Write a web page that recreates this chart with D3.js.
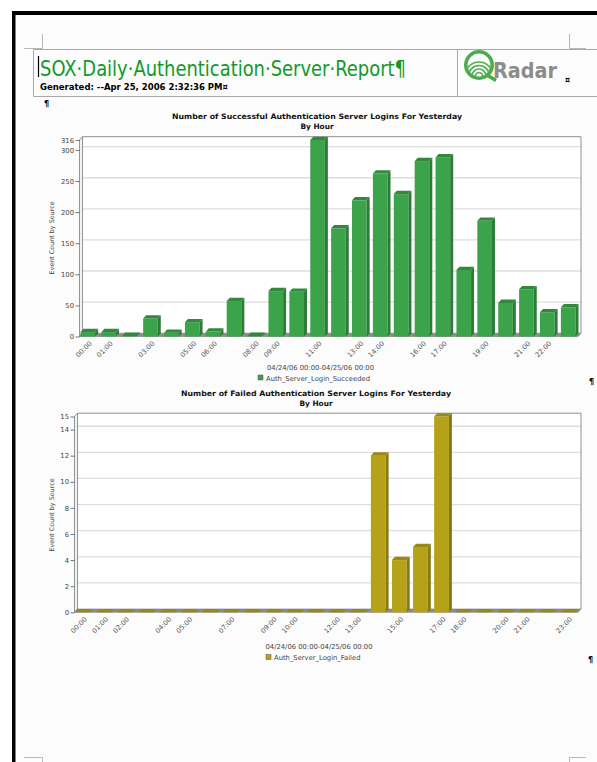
<!DOCTYPE html>
<html>
<head>
<meta charset="utf-8">
<script src="https://cdn.jsdelivr.net/npm/d3@7"></script>
<style>
  html, body { margin: 0; padding: 0; background: #fcfcfc; }
  svg { display: block; }
  text { font-family: "DejaVu Sans", Verdana, sans-serif; }
</style>
</head>
<body>
<svg id="page" width="597" height="762"></svg>
<script>
// ---- data ----
const hours = ["00:00","01:00","02:00","03:00","04:00","05:00","06:00","07:00",
               "08:00","09:00","10:00","11:00","12:00","13:00","14:00","15:00",
               "16:00","17:00","18:00","19:00","20:00","21:00","22:00","23:00"];

const succeededCounts = [7, 7, 1, 29, 6, 23, 8, 57, 1, 73, 72, 316,
                         174, 219, 262, 229, 282, 288, 107, 186, 54, 76, 39, 47];

const failedCounts = [0, 0, 0, 0, 0, 0, 0, 0, 0, 0, 0, 0,
                      0, 0, 12, 4, 5, 15, 0, 0, 0, 0, 0, 0];

const succeededTicks = [0, 50, 100, 150, 200, 250, 300, 316];
const failedTicks = [0, 2, 4, 6, 8, 10, 12, 14, 15];

const succeededHourLabels = ["00:00","01:00","03:00","05:00","06:00","08:00","09:00","11:00",
                             "13:00","14:00","16:00","17:00","19:00","21:00","22:00"];
const failedHourLabels = ["00:00","01:00","02:00","04:00","05:00","07:00","09:00","10:00",
                          "12:00","13:00","15:00","17:00","18:00","20:00","21:00","23:00"];

const chartTitles = ["Number of Successful Authentication Server Logins For Yesterday",
                     "Number of Failed Authentication Server Logins For Yesterday"];
const chartSubtitle = "By Hour";
const yAxisTitle = "Event Count by Source";
const dateRange = "04/24/06 00:00-04/25/06 00:00";
const seriesNames = ["Auth_Server_Login_Succeeded", "Auth_Server_Login_Failed"];
const seriesColors = ["#3ba34a", "#b6a219"];

const reportTitle = "SOX\u00B7Daily\u00B7Authentication\u00B7Server\u00B7Report\u00B6";
const generatedLine = "Generated: --Apr 25, 2006 2:32:36 PM\u00A4";

// ---- page frame ----
const svg = d3.select("#page");
svg.append("rect").attr("x", 0).attr("y", 0).attr("width", 597).attr("height", 762).attr("fill", "#fcfcfc");
svg.append("rect").attr("x", 0).attr("y", 0).attr("width", 597).attr("height", 11).attr("fill", "#ffffff");
svg.append("rect").attr("x", 0).attr("y", 0).attr("width", 12).attr("height", 762).attr("fill", "#ffffff");
svg.append("rect").attr("x", 12).attr("y", 11).attr("width", 585).attr("height", 4).attr("fill", "#000");
svg.append("rect").attr("x", 12).attr("y", 11).attr("width", 3.5).attr("height", 751).attr("fill", "#000");

// crop marks at the page corners
const cropMarks = svg.append("g").attr("stroke", "#b8b8b8").attr("stroke-width", 1).attr("fill", "none");
cropMarks.append("path").attr("d", "M42.5,34V48.5H24");
cropMarks.append("path").attr("d", "M569.5,34V48.5H586");
cropMarks.append("path").attr("d", "M24,757.5H42.5V762");
cropMarks.append("path").attr("d", "M586,757.5H569.5V762");

// ---- report header ----
const header = svg.append("g");
header.append("path")
  .attr("d", "M33.5,49.5H597M33.5,96.5H597M33.5,49.5V96.5M457.5,49.5V96.5")
  .attr("stroke", "#a8a8a8").attr("stroke-width", 1).attr("fill", "none");
header.append("line").attr("x1", 38.5).attr("x2", 38.5).attr("y1", 56).attr("y2", 77)
  .attr("stroke", "#000").attr("stroke-width", 1.2);
header.append("text").attr("x", 40).attr("y", 75.5)
  .attr("font-family", "'Open Sans', 'DejaVu Sans', sans-serif")
  .attr("font-size", 21).attr("fill", "#119a2b")
  .attr("textLength", 366).attr("lengthAdjust", "spacingAndGlyphs")
  .text(reportTitle);
header.append("text").attr("x", 40).attr("y", 89.5)
  .attr("font-size", 8).attr("font-weight", "bold").attr("fill", "#000")
  .attr("textLength", 188).attr("lengthAdjust", "spacingAndGlyphs")
  .text(generatedLine);

// QRadar logo
const logo = header.append("g");
logo.append("clipPath").attr("id", "qclip")
  .append("circle").attr("cx", 479).attr("cy", 65).attr("r", 11.5);
const waves = logo.append("g").attr("clip-path", "url(#qclip)")
  .attr("fill", "none").attr("stroke", "#52b052").attr("stroke-width", 1.7);
[3.5, 7, 10.5, 14].forEach(r => {
  waves.append("path").attr("d", d3.arc()({innerRadius: r, outerRadius: r, startAngle: -Math.PI / 2, endAngle: Math.PI / 2}))
    .attr("transform", "translate(479,76)");
});
logo.append("circle").attr("cx", 479).attr("cy", 65).attr("r", 13.2)
  .attr("fill", "none").attr("stroke", "#4aac4a").attr("stroke-width", 3.6);
logo.append("path").attr("d", "M487,75L496,80.5").attr("stroke", "#4aac4a").attr("stroke-width", 3.6);
logo.append("text").attr("x", 493).attr("y", 77.5)
  .attr("font-family", "'Liberation Sans', Arial, sans-serif").attr("font-weight", "bold")
  .attr("font-size", 21).attr("fill", "#8c8c8c")
  .attr("textLength", 64).attr("lengthAdjust", "spacingAndGlyphs")
  .text("Radar");
header.append("text").attr("x", 565).attr("y", 83).attr("font-size", 8).attr("font-weight", "bold")
  .attr("fill", "#000").text("\u00A4");

// paragraph marks
const marks = [[44, 107], [589, 385], [588, 663]];
svg.selectAll("text.para").data(marks).join("text").attr("class", "para")
  .attr("x", d => d[0]).attr("y", d => d[1]).attr("font-size", 8).attr("font-weight", "bold")
  .attr("fill", "#000").text("\u00B6");

// ---- 3D bar chart ----
function barChart(cfg) {
  const g = svg.append("g");
  const dx = 3, dy = 3.3;
  const x = d3.scaleBand().domain(hours).range([cfg.left + 1, cfg.right - 5.5])
    .paddingInner(0.3).paddingOuter(0);
  const y = d3.scaleLinear().domain([0, d3.max(cfg.ticks)]).range([cfg.bottom, cfg.top]);
  const y0 = y(0), yT = y(d3.max(cfg.ticks));
  const L = cfg.left, R = cfg.right;

  // titles
  g.append("text").attr("x", cfg.titleX).attr("y", cfg.titleY).attr("text-anchor", "middle")
    .attr("font-size", 7.4).attr("font-weight", "bold").attr("fill", "#111")
    .attr("textLength", cfg.titleLen).attr("lengthAdjust", "spacingAndGlyphs")
    .text(cfg.title);
  g.append("text").attr("x", cfg.titleX).attr("y", cfg.titleY + 9.5).attr("text-anchor", "middle")
    .attr("font-size", 7.4).attr("font-weight", "bold").attr("fill", "#111")
    .text(chartSubtitle);

  // back wall, left wall and floor
  g.append("rect").attr("x", L + dx).attr("y", yT - dy).attr("width", R - L - dx).attr("height", y0 - yT)
    .attr("fill", "#ffffff");
  const grid = g.append("g").attr("fill", "none").attr("stroke", "#dedede").attr("stroke-width", 1.3);
  cfg.ticks.filter(t => t > 0 && t < d3.max(cfg.ticks)).forEach(t => {
    grid.append("path").attr("d", `M${L},${y(t)}L${L + dx},${y(t) - dy}H${R}`);
  });
  g.append("path")
    .attr("d", `M${L},${y0}V${yT}L${L + dx},${yT - dy}V${y0 - dy}Z`)
    .attr("fill", "#f1f1f1").attr("stroke", "#8a8a8a").attr("stroke-width", 0.9);
  g.append("path")
    .attr("d", `M${L + dx},${yT - dy}H${R}V${y0 - dy}`)
    .attr("fill", "none").attr("stroke", "#8f8f8f").attr("stroke-width", 1);
  g.append("path")
    .attr("d", `M${L},${y0}L${L + dx},${y0 - dy}H${R}L${R - dx},${y0}Z`)
    .attr("fill", "#8d8d8d").attr("stroke", "#777").attr("stroke-width", 0.6);

  // bars: front, side and top faces
  const dark = d3.color(cfg.color).darker(0.8).formatHex();
  const topC = d3.color(cfg.color).darker(0.5).formatHex();
  const bars = g.append("g").selectAll("g").data(hours.map((h, i) => ({h, v: cfg.values[i]}))).join("g");
  bars.append("rect")
    .attr("x", d => x(d.h)).attr("y", d => y(d.v))
    .attr("width", x.bandwidth()).attr("height", d => y0 - y(d.v))
    .attr("fill", cfg.color);
  bars.append("path")
    .attr("d", d => {
      const x1 = x(d.h) + x.bandwidth(), yv = y(d.v);
      return `M${x1},${y0}L${x1 + dx},${y0 - dy}V${yv - dy}L${x1},${yv}Z`;
    })
    .attr("fill", dark);
  bars.append("path")
    .attr("d", d => {
      const x1 = x(d.h), yv = y(d.v), w = x.bandwidth();
      return `M${x1},${yv}L${x1 + dx},${yv - dy}H${x1 + w + dx}L${x1 + w},${yv}Z`;
    })
    .attr("fill", topC);

  // value axis
  const yAxis = g.append("g").attr("transform", `translate(${L},0)`)
    .call(d3.axisLeft(y).tickValues(cfg.ticks).tickFormat(d3.format("d")).tickSize(4).tickPadding(1.5));
  yAxis.select(".domain").remove();
  yAxis.selectAll(".tick line").attr("stroke", "#555").attr("stroke-width", 0.8);
  yAxis.selectAll(".tick text").attr("font-size", 6.8).attr("fill", "#444")
    .attr("font-family", "'DejaVu Sans', sans-serif");
  g.append("text").attr("transform", `translate(${cfg.yTitleX},${cfg.yTitleY}) rotate(-90)`)
    .attr("text-anchor", "middle").attr("font-size", 6.4).attr("fill", "#444")
    .text(yAxisTitle);

  // category axis with rotated hour labels
  const xAxis = g.append("g").attr("transform", `translate(0,${y0})`)
    .call(d3.axisBottom(x).tickValues(cfg.labels).tickSize(0));
  xAxis.select(".domain").remove();
  xAxis.selectAll(".tick text")
    .attr("font-size", 6.8).attr("fill", "#555").attr("font-family", "'DejaVu Sans', sans-serif")
    .attr("text-anchor", "end").attr("y", 0).attr("dy", 0)
    .attr("transform", "translate(4.5,7.5) rotate(-45)");

  // date range and legend
  g.append("text").attr("x", cfg.dateX).attr("y", cfg.dateY)
    .attr("font-size", 6.8).attr("fill", "#444").text(dateRange);
  g.append("rect").attr("x", cfg.legendX).attr("y", cfg.legendY - 5.5).attr("width", 5).attr("height", 5)
    .attr("fill", cfg.color).attr("stroke", "#555").attr("stroke-width", 0.5);
  g.append("text").attr("x", cfg.legendX + 8).attr("y", cfg.legendY)
    .attr("font-size", 6.8).attr("fill", "#444").text(cfg.series);
}

barChart({
  values: succeededCounts, ticks: succeededTicks, labels: succeededHourLabels,
  title: chartTitles[0], titleX: 317, titleY: 119, titleLen: 290,
  left: 79.5, right: 581, top: 140, bottom: 336.5,
  yTitleX: 54, yTitleY: 238,
  dateX: 267, dateY: 370, legendX: 258, legendY: 380.5,
  series: seriesNames[0], color: seriesColors[0]
});

barChart({
  values: failedCounts, ticks: failedTicks, labels: failedHourLabels,
  title: chartTitles[1], titleX: 316, titleY: 396, titleLen: 270,
  left: 74.5, right: 581, top: 416.5, bottom: 612.3,
  yTitleX: 54, yTitleY: 515,
  dateX: 265.5, dateY: 648.5, legendX: 266, legendY: 660,
  series: seriesNames[1], color: seriesColors[1]
});
</script>
</body>
</html>
